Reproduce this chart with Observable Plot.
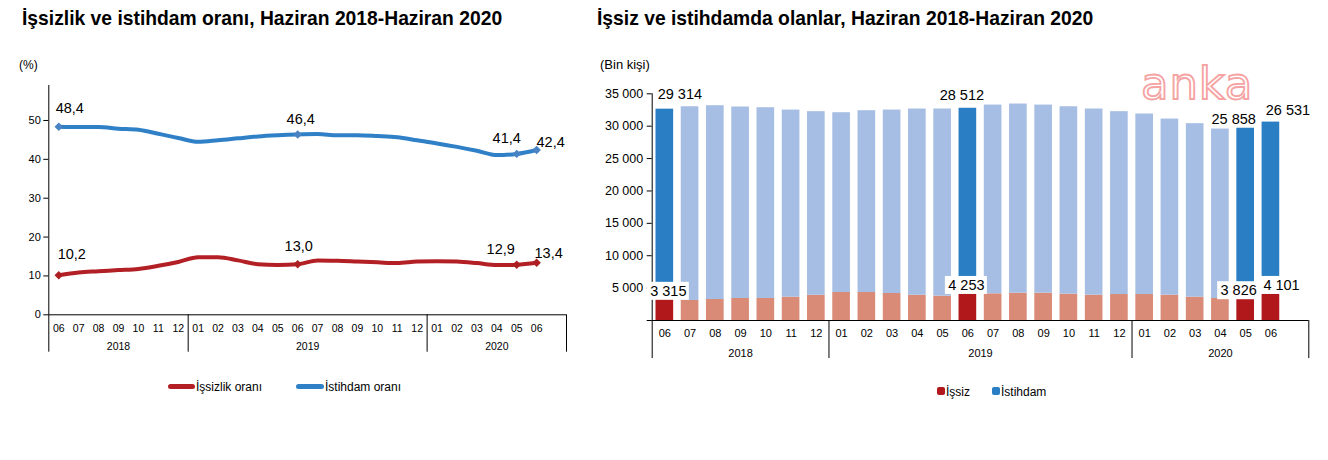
<!DOCTYPE html>
<html><head><meta charset="utf-8">
<script src="https://cdn.jsdelivr.net/npm/d3@7"></script>
<script src="https://cdn.jsdelivr.net/npm/@observablehq/plot@0.6"></script>
<style>
body{margin:0;background:#fff;font-family:"Liberation Sans",Arial,sans-serif;}
#page{position:relative;width:1328px;height:460px;overflow:hidden;background:#fff}
.abs{position:absolute;white-space:nowrap;color:#000;line-height:1}
.title{font-weight:bold;font-size:19.3px;line-height:19px}
.unit{font-size:12px;line-height:12px}
.leg{font-size:12px;line-height:12px}
.sw{position:absolute}
#wm{position:absolute;left:1141px;top:67px;font-family:"DejaVu Sans",sans-serif;font-size:45px;line-height:34px;height:34px;color:#fff;-webkit-text-stroke:1.8px #f5a3a3;letter-spacing:0.8px}
#left,#right{position:absolute;top:0}
#left{left:0}
#right{left:590px}
</style></head><body><div id="page">
<div class="abs title" style="left:22px;top:8.5px">İşsizlik ve istihdam oranı, Haziran 2018-Haziran 2020</div>
<div class="abs title" style="left:597px;top:8.5px">İşsiz ve istihdamda olanlar, Haziran 2018-Haziran 2020</div>
<div class="abs unit" style="left:19px;top:58.5px">(%)</div>
<div class="abs unit" style="left:600px;top:58px;font-size:13px;line-height:13px">(Bin kişi)</div>
<div id="left"></div>
<div id="right"></div>
<div id="wm">anka</div>
<div class="sw" style="left:168px;top:383.5px;width:27px;height:5px;border-radius:2.5px;background:#b21f24"></div>
<div class="abs leg" style="left:196px;top:380.5px">İşsizlik oranı</div>
<div class="sw" style="left:296px;top:383.5px;width:28px;height:5px;border-radius:2.5px;background:#2f80c6"></div>
<div class="abs leg" style="left:325px;top:380.5px">İstihdam oranı</div>
<div class="sw" style="left:937px;top:387px;width:8px;height:8px;border-radius:2px;background:#b0181c"></div>
<div class="abs leg" style="left:946px;top:385.5px">İşsiz</div>
<div class="sw" style="left:992px;top:387px;width:8px;height:8px;border-radius:2px;background:#2a7ec3"></div>
<div class="abs leg" style="left:1001px;top:385.5px">İstihdam</div>
</div>
<script>
// ---- data ----
const periods = ["2018-06","2018-07","2018-08","2018-09","2018-10","2018-11","2018-12",
  "2019-01","2019-02","2019-03","2019-04","2019-05","2019-06","2019-07","2019-08","2019-09","2019-10","2019-11","2019-12",
  "2020-01","2020-02","2020-03","2020-04","2020-05","2020-06"];
const unemploymentRate = [10.2,10.9,11.2,11.5,11.8,12.6,13.6,14.8,14.8,14.0,13.0,12.8,13.0,14.0,13.9,13.7,13.5,13.3,13.7,13.8,13.7,13.3,12.8,12.9,13.4];
const employmentRate   = [48.4,48.3,48.3,47.9,47.6,46.6,45.5,44.5,44.9,45.4,45.9,46.2,46.4,46.5,46.2,46.2,46.0,45.7,44.9,44.1,43.2,42.2,41.1,41.4,42.4];
const unemployed = [3315,3090,3240,3400,3400,3600,3900,4320,4320,4170,3900,3760,4253,4120,4220,4220,4070,3910,4010,4010,3910,3600,3400,3826,4101];
const employed   = [29314,29910,29920,29560,29450,28890,28340,27760,28070,28320,28750,28890,28512,29140,29200,29040,28930,28740,28230,27870,27190,26790,26160,25858,26531];
const highlighted = ["2018-06","2019-06","2020-05","2020-06"];
const yTicksRate = [0,10,20,30,40,50];
const yTicksCount = [0,5000,10000,15000,20000,25000,30000,35000];

// ---- colours ----
const C = {lineRed:"#b21f24", lineBlue:"#2f80c6", dotRed:"#ad1e22", dotBlue:"#4a83c4",
  barRed:"#b0181c", barSalmon:"#d98b77", barBlue:"#2a7ec3", barLight:"#a6bee3"};

const rows = periods.map((p,i)=>({i, period:p, year:p.slice(0,4), month:p.slice(5),
  ur:unemploymentRate[i], er:employmentRate[i], u:unemployed[i], e:employed[i],
  hl: highlighted.includes(p)}));
const xDomain = [-0.5, periods.length + 0.5];
const groups = d3.groups(rows, d=>d.year).map(([year, rs], k, arr)=>({year,
  start: rs[0].i - 0.5,
  end: k === arr.length-1 ? xDomain[1] : rs[rs.length-1].i + 0.5}));
const bounds = [xDomain[0], ...groups.map(g=>g.end)];
const fmt1 = v => v.toFixed(1).replace(".", ",");
const fmtK = v => d3.format(",")(v).replace(/,/g, " ");
const font = "Liberation Sans, Arial, sans-serif";

function xAxisMarks(dMonth, dYear, ext, fs){
  return [
    Plot.ruleY([0], {stroke:"#000", strokeWidth:1}),
    Plot.ruleX([xDomain[0]], {stroke:"#000", strokeWidth:1}),
    Plot.ruleX(bounds, {x:d=>d, y1:0, y2:0, insetBottom:-ext, stroke:"#000", strokeWidth:1}),
    Plot.text(rows, {x:"i", y:0, text:"month", dy:dMonth, fontSize:fs, fill:"#000"}),
    Plot.text(groups, {x:d=>(d.start+d.end)/2, y:0, text:"year", dy:dYear, fontSize:fs, fill:"#000"})
  ];
}

// ---- left chart ----
function rateLabel(period, field, dx, dy){
  return Plot.text(rows.filter(d=>d.period===period), {x:"i", y:field, text:d=>fmt1(d[field]), dx, dy, fontSize:14.5, fill:"#000"});
}
const left = Plot.plot({
  width:590, height:370, marginLeft:48.3, marginRight:24, marginTop:85, marginBottom:55.7,
  style:{fontFamily:font, fontSize:"11px", color:"#000", background:"transparent", overflow:"visible"},
  x:{domain:xDomain, axis:null},
  y:{domain:[0,59], ticks:yTicksRate, tickSize:5, tickPadding:3, label:null},
  marks:[
    ...xAxisMarks(13.4, 31.7, 37.4, 10.5),
    Plot.line(rows, {x:"i", y:"er", stroke:C.lineBlue, strokeWidth:4, curve:"monotone-x"}),
    Plot.line(rows, {x:"i", y:"ur", stroke:C.lineRed, strokeWidth:4, curve:"monotone-x"}),
    Plot.dot(rows.filter(d=>d.hl), {x:"i", y:"er", symbol:"diamond2", r:3.8, fill:C.dotBlue}),
    Plot.dot(rows.filter(d=>d.hl), {x:"i", y:"ur", symbol:"diamond2", r:3.8, fill:C.dotRed}),
    rateLabel("2018-06","er",11,-18), rateLabel("2019-06","er",3,-15),
    rateLabel("2020-05","er",-10,-16), rateLabel("2020-06","er",14,-8),
    rateLabel("2018-06","ur",13,-21), rateLabel("2019-06","ur",1,-18),
    rateLabel("2020-05","ur",-16,-15), rateLabel("2020-06","ur",12,-9)
  ]
});
document.getElementById("left").append(left);

// ---- right chart ----
function empLabel(period, dx, dy){
  return Plot.text(rows.filter(d=>d.period===period), {x:"i", y:d=>d.u+d.e, text:d=>fmtK(d.e), dx, dy, fontSize:14.5, fill:"#000"});
}
// unemployed value label sitting on a white box (box sized around the text's offset)
function unLabel(period, dx, dy){
  const sel = rows.filter(d=>d.period===period);
  const hw = 21, hh = 9;
  return [
    Plot.rect(sel, {x1:"i", x2:"i", y1:"u", y2:"u", fill:"#fff",
      insetLeft:dx-hw, insetRight:-(dx+hw), insetTop:dy-hh, insetBottom:-(dy+hh)}),
    Plot.text(sel, {x:"i", y:"u", text:d=>fmtK(d.u), dx, dy, fontSize:14.5, fill:"#000"})
  ];
}
const right = Plot.plot({
  width:738, height:370, marginLeft:61.7, marginRight:19.7, marginTop:93.3, marginBottom:50,
  style:{fontFamily:font, fontSize:"12.5px", color:"#000", background:"transparent", overflow:"visible"},
  x:{domain:xDomain, axis:null},
  y:{domain:[0,35000], ticks:yTicksCount, tickFormat:d=>d===0?"":fmtK(d), tickSize:5, tickPadding:4, label:null},
  marks:[
    Plot.rect(rows, {x1:d=>d.i-0.5, x2:d=>d.i+0.5, y1:0, y2:"u", insetLeft:3.8, insetRight:3.8,
      fill:d=>d.hl?C.barRed:C.barSalmon}),
    Plot.rect(rows, {x1:d=>d.i-0.5, x2:d=>d.i+0.5, y1:"u", y2:d=>d.u+d.e, insetLeft:3.8, insetRight:3.8,
      fill:d=>d.hl?C.barBlue:C.barLight}),
    ...xAxisMarks(13.3, 33.3, 38, 11),
    empLabel("2018-06",15,-15), empLabel("2019-06",-6,-13),
    empLabel("2020-05",-12,-9), empLabel("2020-06",17,-11.6),
    ...unLabel("2018-06",3.5,-7.7), ...unLabel("2019-06",-1.5,-7.5),
    ...unLabel("2020-05",-7,-5), ...unLabel("2020-06",10.6,-8.5)
  ]
});
document.getElementById("right").append(right);
</script></body></html>
